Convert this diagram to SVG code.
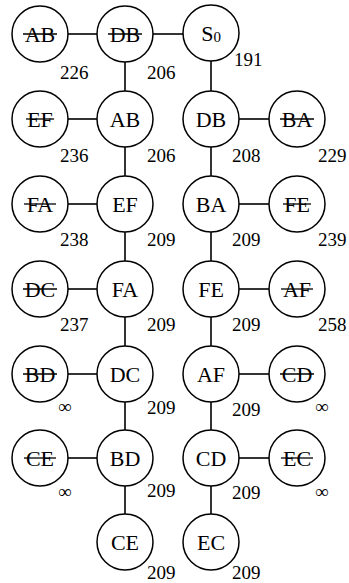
<svg xmlns="http://www.w3.org/2000/svg" width="349" height="583" viewBox="0 0 349 583">
<style>
.n{fill:#fff;stroke:#000;stroke-width:1.5}
.t{font-family:'Liberation Serif','DejaVu Serif',serif;font-size:22px;text-anchor:middle;fill:#000}
.v{font-family:'Liberation Serif','DejaVu Serif',serif;font-size:19px;fill:#000}
.s{stroke:#000;stroke-width:1.3}
.c line{stroke:#000;stroke-width:1.6}
</style>
<rect width="349" height="583" fill="#fff"/>
<g class="c" id="connectors">
<line x1="68" y1="34" x2="97" y2="34"/>
<line x1="153" y1="34" x2="183" y2="34"/>
<line x1="68" y1="119" x2="97" y2="119"/>
<line x1="239" y1="119" x2="269" y2="119"/>
<line x1="68" y1="204" x2="97" y2="204"/>
<line x1="239" y1="204" x2="269" y2="204"/>
<line x1="68" y1="289" x2="97" y2="289"/>
<line x1="239" y1="289" x2="269" y2="289"/>
<line x1="68" y1="374" x2="97" y2="374"/>
<line x1="239" y1="374" x2="269" y2="374"/>
<line x1="68" y1="458" x2="97" y2="458"/>
<line x1="239" y1="458" x2="269" y2="458"/>
<line x1="125" y1="62" x2="125" y2="91"/>
<line x1="125" y1="147" x2="125" y2="176"/>
<line x1="125" y1="232" x2="125" y2="261"/>
<line x1="125" y1="317" x2="125" y2="346"/>
<line x1="125" y1="402" x2="125" y2="430"/>
<line x1="125" y1="486" x2="125" y2="515"/>
<line x1="211" y1="61" x2="211" y2="91"/>
<line x1="211" y1="147" x2="211" y2="176"/>
<line x1="211" y1="232" x2="211" y2="261"/>
<line x1="211" y1="317" x2="211" y2="346"/>
<line x1="211" y1="402" x2="211" y2="430"/>
<line x1="211" y1="486" x2="211" y2="515"/>
</g>
<!-- Row 1 -->
<g id="r1_AB"><circle class="n" cx="40" cy="34" r="28"/><text class="t" x="40" y="41.5" font-family="Liberation Serif, serif">AB</text><line class="s" x1="23" y1="34" x2="57" y2="34"/><text class="v" x="60" y="79" font-family="Liberation Serif, serif">226</text></g>
<g id="r1_DB"><circle class="n" cx="125" cy="34" r="28"/><text class="t" x="125" y="41.5">DB</text><line class="s" x1="108" y1="34" x2="142" y2="34"/><text class="v" x="147" y="79">206</text></g>
<g id="r1_S0"><circle class="n" cx="211" cy="33" r="28"/><text class="t" x="211" y="40.5">S<tspan font-size="15" dy="1">0</tspan></text><text class="v" x="234" y="66">191</text></g>
<!-- Row 2 -->
<g id="r2_EF"><circle class="n" cx="40" cy="119" r="28"/><text class="t" x="40" y="126.5">EF</text><line class="s" x1="26" y1="119" x2="54" y2="119"/><text class="v" x="60" y="162">236</text></g>
<g id="r2_AB"><circle class="n" cx="125" cy="119" r="28"/><text class="t" x="125" y="126.5">AB</text><text class="v" x="147" y="162">206</text></g>
<g id="r2_DB"><circle class="n" cx="211" cy="119" r="28"/><text class="t" x="211" y="126.5">DB</text><text class="v" x="232" y="162">208</text></g>
<g id="r2_BA"><circle class="n" cx="297" cy="119" r="28"/><text class="t" x="297" y="126.5">BA</text><line class="s" x1="280" y1="119" x2="314" y2="119"/><text class="v" x="318" y="162">229</text></g>
<!-- Row 3 -->
<g id="r3_FA"><circle class="n" cx="40" cy="204" r="28"/><text class="t" x="40" y="211.5">FA</text><line class="s" x1="24" y1="204" x2="56" y2="204"/><text class="v" x="60" y="246">238</text></g>
<g id="r3_EF"><circle class="n" cx="125" cy="204" r="28"/><text class="t" x="125" y="211.5">EF</text><text class="v" x="147" y="246">209</text></g>
<g id="r3_BA"><circle class="n" cx="211" cy="204" r="28"/><text class="t" x="211" y="211.5">BA</text><text class="v" x="232" y="246">209</text></g>
<g id="r3_FE"><circle class="n" cx="297" cy="204" r="28"/><text class="t" x="297" y="211.5">FE</text><line class="s" x1="283" y1="204" x2="311" y2="204"/><text class="v" x="318" y="246">239</text></g>
<!-- Row 4 -->
<g id="r4_DC"><circle class="n" cx="40" cy="289" r="28"/><text class="t" x="40" y="296.5">DC</text><line class="s" x1="23" y1="289" x2="57" y2="289"/><text class="v" x="60" y="331">237</text></g>
<g id="r4_FA"><circle class="n" cx="125" cy="289" r="28"/><text class="t" x="125" y="296.5">FA</text><text class="v" x="147" y="331">209</text></g>
<g id="r4_FE"><circle class="n" cx="211" cy="289" r="28"/><text class="t" x="211" y="296.5">FE</text><text class="v" x="232" y="331">209</text></g>
<g id="r4_AF"><circle class="n" cx="297" cy="289" r="28"/><text class="t" x="297" y="296.5">AF</text><line class="s" x1="281" y1="289" x2="313" y2="289"/><text class="v" x="318" y="331">258</text></g>
<!-- Row 5 -->
<g id="r5_BD"><circle class="n" cx="40" cy="374" r="28"/><text class="t" x="40" y="381.5">BD</text><line class="s" x1="23" y1="374" x2="57" y2="374"/><text class="v" x="58" y="413">∞</text></g>
<g id="r5_DC"><circle class="n" cx="125" cy="374" r="28"/><text class="t" x="125" y="381.5">DC</text><text class="v" x="147" y="414">209</text></g>
<g id="r5_AF"><circle class="n" cx="211" cy="374" r="28"/><text class="t" x="211" y="381.5">AF</text><text class="v" x="232" y="416">209</text></g>
<g id="r5_CD"><circle class="n" cx="297" cy="374" r="28"/><text class="t" x="297" y="381.5">CD</text><line class="s" x1="280" y1="374" x2="314" y2="374"/><text class="v" x="315" y="413">∞</text></g>
<!-- Row 6 -->
<g id="r6_CE"><circle class="n" cx="40" cy="458" r="28"/><text class="t" x="40" y="465.5">CE</text><line class="s" x1="24" y1="458" x2="56" y2="458"/><text class="v" x="58" y="498">∞</text></g>
<g id="r6_BD"><circle class="n" cx="125" cy="458" r="28"/><text class="t" x="125" y="465.5">BD</text><text class="v" x="147" y="497">209</text></g>
<g id="r6_CD"><circle class="n" cx="211" cy="458" r="28"/><text class="t" x="211" y="465.5">CD</text><text class="v" x="232" y="499">209</text></g>
<g id="r6_EC"><circle class="n" cx="297" cy="458" r="28"/><text class="t" x="297" y="465.5">EC</text><line class="s" x1="281" y1="458" x2="313" y2="458"/><text class="v" x="315" y="498">∞</text></g>
<!-- Row 7 -->
<g id="r7_CE"><circle class="n" cx="125" cy="542" r="28"/><text class="t" x="125" y="549.5">CE</text><text class="v" x="147" y="579">209</text></g>
<g id="r7_EC"><circle class="n" cx="211" cy="542" r="28"/><text class="t" x="211" y="549.5">EC</text><text class="v" x="232" y="579">209</text></g>
</svg>
